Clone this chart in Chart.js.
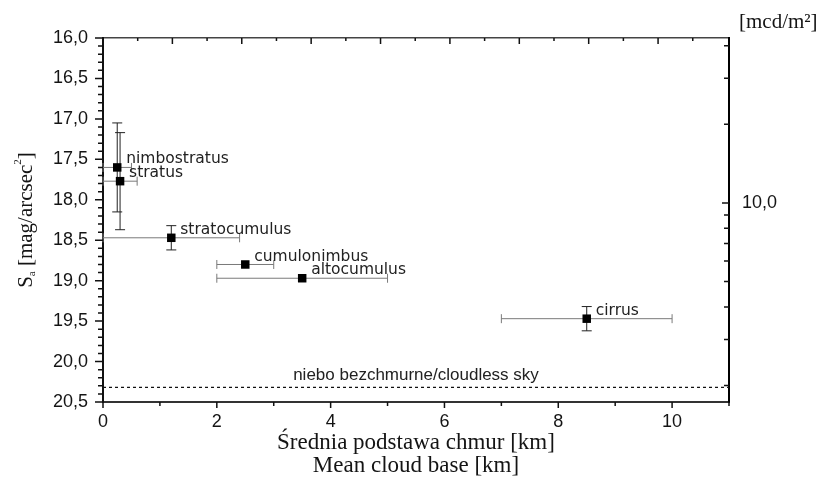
<!DOCTYPE html>
<html>
<head>
<meta charset="utf-8">
<script src="https://cdn.jsdelivr.net/npm/chart.js@4/dist/chart.umd.min.js"></script>
<style>
  html, body { margin: 0; padding: 0; background: #fff; }
  #wrap { width: 823px; height: 478px; }
</style>
</head>
<body>
<div id="wrap"><canvas id="chart" width="823" height="478"></canvas></div>
<script>
(function () {

  // values
  const cloudTypes = ["nimbostratus", "stratus", "stratocumulus", "cumulonimbus", "altocumulus", "cirrus"];
  const cloudBaseKm = [0.25, 0.3, 1.2, 2.5, 3.5, 8.5];
  const cloudBaseErr = [0.25, 0.3, 1.2, 0.5, 1.5, 1.5];
  const skyBrightness = [17.6, 17.77, 18.47, 18.8, 18.97, 19.47];
  const skyBrightnessErr = [0.55, 0.6, 0.15, 0, 0, 0.15];
  const clearSkyBrightness = 20.32;
  const clearSkyLabel = "niebo bezchmurne/cloudless sky";
  const luminanceTicks = [2, 3, 4, 5, 6, 7, 8, 9, 10, 20, 30, 40];
  const luminanceLabelled = [10];
  const KM_PER_KFT = 0.3048;

  const TICK_FONT = { family: "'Liberation Sans', Arial, sans-serif", size: 18 };
  const SERIF = "'Liberation Serif', 'Times New Roman', serif";
  const TEXT = "#141414";

  function isMultiple(v, step) {
    const q = v / step;
    return Math.abs(q - Math.round(q)) < 1e-6;
  }

  function commaNumber(v) {
    return v.toFixed(1).replace(".", ",");
  }

  const axisTicks = {
    id: "axisTicks",
    afterDraw(chart) {
      const ctx = chart.ctx;
      const area = chart.chartArea;
      const s = chart.scales;
      ctx.save();
      ctx.strokeStyle = "#111";
      ctx.lineWidth = 1.5;
      ctx.beginPath();
      s.x.ticks.forEach(t => {
        const px = s.x.getPixelForValue(t.value);
        const len = isMultiple(t.value, 2) ? 6 : 4;
        ctx.moveTo(px, area.bottom);
        ctx.lineTo(px, area.bottom + len);
      });
      s.x2.ticks.forEach(t => {
        if (!isMultiple(t.value, 2) || t.value === 0) return;
        const px = s.x2.getPixelForValue(t.value);
        const len = isMultiple(t.value, 4) ? 6 : 3;
        ctx.moveTo(px, area.top);
        ctx.lineTo(px, area.top + len);
      });
      s.y.ticks.forEach(t => {
        const py = s.y.getPixelForValue(t.value);
        const len = isMultiple(t.value, 0.5) ? 8 : 5;
        ctx.moveTo(area.left - len, py);
        ctx.lineTo(area.left, py);
      });
      s.y2.ticks.forEach(t => {
        const py = s.y2.getPixelForValue(t.value);
        const len = luminanceLabelled.includes(t.value) ? 7 : 5;
        ctx.moveTo(area.right - len, py);
        ctx.lineTo(area.right, py);
      });
      ctx.stroke();
      ctx.restore();
    }
  };

  const errorBars = {
    id: "errorBars",
    beforeDatasetsDraw(chart) {
      const ctx = chart.ctx;
      const xs = chart.scales.x;
      const ys = chart.scales.y;
      ctx.save();
      ctx.lineWidth = 1;
      cloudTypes.forEach((name, i) => {
        const px = xs.getPixelForValue(cloudBaseKm[i]);
        const py = ys.getPixelForValue(skyBrightness[i]);
        const x0 = xs.getPixelForValue(cloudBaseKm[i] - cloudBaseErr[i]);
        const x1 = xs.getPixelForValue(cloudBaseKm[i] + cloudBaseErr[i]);
        ctx.strokeStyle = "#7a7a7a";
        ctx.beginPath();
        ctx.moveTo(x0, py); ctx.lineTo(x1, py);
        ctx.moveTo(x0, py - 4.5); ctx.lineTo(x0, py + 4.5);
        ctx.moveTo(x1, py - 4.5); ctx.lineTo(x1, py + 4.5);
        ctx.stroke();
        if (skyBrightnessErr[i] > 0) {
          const y0 = ys.getPixelForValue(skyBrightness[i] - skyBrightnessErr[i]);
          const y1 = ys.getPixelForValue(skyBrightness[i] + skyBrightnessErr[i]);
          ctx.strokeStyle = "#222";
          ctx.beginPath();
          ctx.moveTo(px, y0); ctx.lineTo(px, y1);
          ctx.moveTo(px - 5, y0); ctx.lineTo(px + 5, y0);
          ctx.moveTo(px - 5, y1); ctx.lineTo(px + 5, y1);
          ctx.stroke();
        }
      });
      ctx.restore();
    }
  };

  const annotations = {
    id: "annotations",
    afterDatasetsDraw(chart) {
      const ctx = chart.ctx;
      const xs = chart.scales.x;
      const ys = chart.scales.y;
      const area = chart.chartArea;
      ctx.save();
      ctx.fillStyle = "#222";
      ctx.textBaseline = "middle";
      ctx.textAlign = "left";
      ctx.font = "15.5px 'DejaVu Sans', Verdana, sans-serif";
      cloudTypes.forEach((name, i) => {
        ctx.fillText(name, xs.getPixelForValue(cloudBaseKm[i]) + 9, ys.getPixelForValue(skyBrightness[i]) - 8);
      });

      ctx.font = "17px 'Liberation Sans', Arial, sans-serif";
      ctx.textAlign = "center";
      ctx.fillText(clearSkyLabel, xs.getPixelForValue(5.5), ys.getPixelForValue(clearSkyBrightness) - 12);

      // right axis unit
      ctx.fillStyle = TEXT;
      ctx.textAlign = "left";
      ctx.font = "21px " + SERIF;
      ctx.fillText("[mcd/m²]", area.right + 10, 22);

      // left axis title with subscript
      ctx.translate(26, (area.top + area.bottom) / 2);
      ctx.rotate(-Math.PI / 2);
      const big = "21px " + SERIF;
      const small = "11px " + SERIF;
      const parts = [
        { t: "S", f: big, dy: 0 },
        { t: "a", f: small, dy: 6 },
        { t: " [mag/arcsec", f: big, dy: 0 },
        { t: "2", f: small, dy: -8 },
        { t: "]", f: big, dy: 0 }
      ];
      let total = 0;
      parts.forEach(p => { ctx.font = p.f; p.w = ctx.measureText(p.t).width; total += p.w; });
      let cx = -total / 2;
      parts.forEach(p => {
        ctx.font = p.f;
        ctx.fillText(p.t, cx, p.dy);
        cx += p.w;
      });
      ctx.restore();
    }
  };

  const pointData = cloudTypes.map((name, i) => ({ x: cloudBaseKm[i], y: skyBrightness[i] }));

  new Chart(document.getElementById("chart"), {
    type: "scatter",
    data: {
      datasets: [
        {
          label: "clouds",
          data: pointData,
          pointStyle: "rect",
          radius: 6,
          hoverRadius: 6,
          backgroundColor: "#000",
          borderColor: "#000",
          borderWidth: 0
        },
        {
          type: "line",
          label: "cloudless",
          data: [{ x: 0, y: clearSkyBrightness }, { x: 11, y: clearSkyBrightness }],
          showLine: true,
          borderColor: "#111",
          borderWidth: 1.2,
          borderDash: [3, 3],
          pointRadius: 0,
          fill: false
        }
      ]
    },
    options: {
      responsive: false,
      animation: false,
      layout: { padding: 0 },
      plugins: {
        legend: { display: false },
        tooltip: { enabled: false }
      },
      scales: {
        x: {
          type: "linear",
          position: "bottom",
          min: 0,
          max: 11,
          grid: { display: false, drawTicks: false },
          border: { display: true, color: "#333", width: 2 },
          ticks: {
            stepSize: 1,
            autoSkip: false,
            maxRotation: 0,
            padding: 9,
            color: TEXT,
            font: TICK_FONT,
            callback: v => isMultiple(v, 2) ? String(v) : ""
          },
          title: {
            display: true,
            text: ["Średnia podstawa chmur [km]", "Mean cloud base [km]"],
            color: TEXT,
            font: { family: SERIF, size: 23, lineHeight: 1.0 },
            padding: { top: 0, bottom: 1 }
          },
          afterFit: s => { s.height = 76; }
        },
        x2: {
          type: "linear",
          position: "top",
          min: 0,
          max: 11 / KM_PER_KFT,
          grid: { display: false, drawTicks: false },
          border: { display: true, color: "#444", width: 1.5 },
          ticks: { display: false, stepSize: 2, autoSkip: false },
          afterFit: s => { s.height = 38; }
        },
        y: {
          type: "linear",
          position: "left",
          reverse: true,
          min: 16,
          max: 20.5,
          grid: { display: false, drawTicks: false },
          border: { display: true, color: "#111", width: 2 },
          ticks: {
            stepSize: 0.1,
            autoSkip: false,
            padding: 15,
            color: TEXT,
            font: TICK_FONT,
            callback: v => isMultiple(v, 0.5) ? commaNumber(v) : ""
          },
          afterFit: s => { s.width = 103; }
        },
        y2: {
          type: "logarithmic",
          position: "right",
          min: 1.73,
          max: 42.8,
          grid: { display: false, drawTicks: false },
          border: { display: true, color: "#000", width: 2 },
          afterBuildTicks: s => { s.ticks = luminanceTicks.map(v => ({ value: v })); },
          ticks: {
            autoSkip: false,
            padding: 13,
            color: TEXT,
            font: TICK_FONT,
            callback: v => luminanceLabelled.includes(v) ? commaNumber(v) : ""
          },
          afterFit: s => { s.width = 94; }
        }
      }
    },
    plugins: [axisTicks, errorBars, annotations]
  });

})();
</script>
</body>
</html>
